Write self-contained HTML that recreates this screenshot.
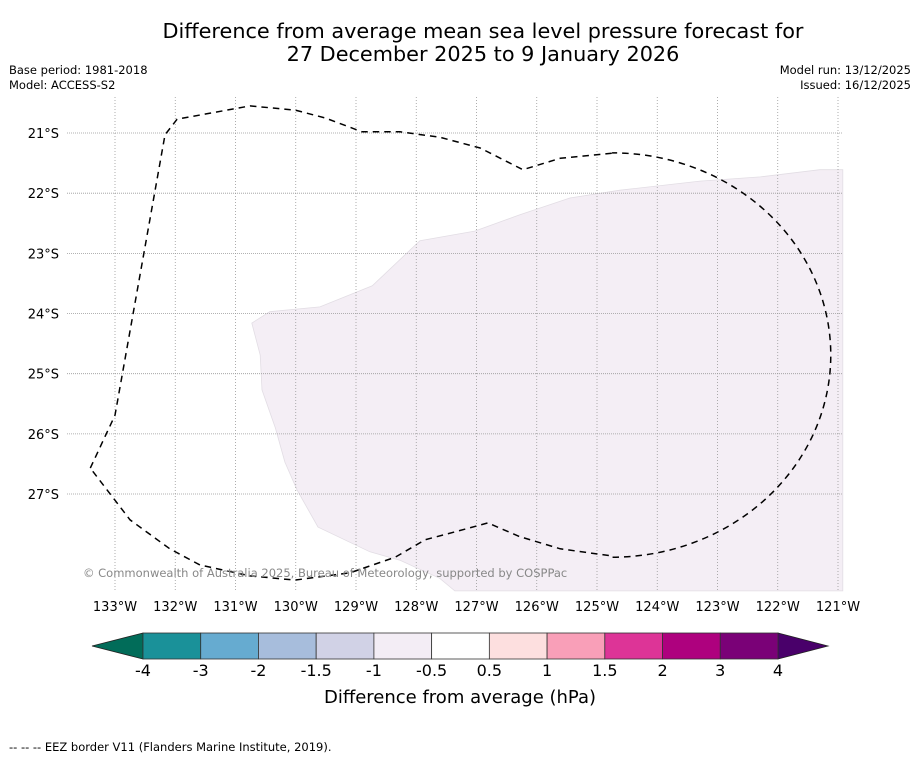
<!DOCTYPE html>
<html><head><meta charset="utf-8">
<style>
body{margin:0;background:#fff;font-family:"DejaVu Sans","Liberation Sans",sans-serif;}
svg{display:block}
</style></head>
<body>
<svg id="chart" width="919" height="758" xmlns="http://www.w3.org/2000/svg">
<text x="483" y="38" text-anchor="middle" font-size="20.8">Difference from average mean sea level pressure forecast for</text>
<text x="483" y="61" text-anchor="middle" font-size="20.8">27 December 2025 to 9 January 2026</text>
<text x="9" y="74" font-size="11.5">Base period: 1981-2018</text>
<text x="9" y="89" font-size="11.5">Model: ACCESS-S2</text>
<text x="911" y="74" font-size="11.5" text-anchor="end">Model run: 13/12/2025</text>
<text x="911" y="89" font-size="11.5" text-anchor="end">Issued: 16/12/2025</text>
<g id="map"></g>
<g id="cbar"></g>
<text x="460" y="703" text-anchor="middle" font-size="18">Difference from average (hPa)</text>
<text x="9" y="751" font-size="11.5">--  --  -- EEZ border V11 (Flanders Marine Institute, 2019).</text>
</svg>
<script>
const lonTicks=[133,132,131,130,129,128,127,126,125,124,123,122,121];
const latTicks=[21,22,23,24,25,26,27];
const shadeLon=[130.73,130.43,129.60,128.73,127.94,127.03,126.28,125.45,124.62,123.29,122.29,121.30,120.92,120.92,127.36,127.61,128.27,128.77,129.63,129.98,130.18,130.34,130.56,130.59];
const shadeLat=[24.16,23.97,23.89,23.54,22.79,22.63,22.36,22.08,21.95,21.80,21.73,21.61,21.61,28.61,28.61,28.40,28.10,27.96,27.55,26.93,26.47,25.90,25.27,24.69];
const eezTopLon=[133.41,133.0,132.17,131.97,130.76,130.01,129.51,128.90,128.27,127.61,126.94,126.23,125.61,124.70];
const eezTopLat=[26.57,25.69,21.03,20.77,20.55,20.62,20.75,20.98,20.98,21.07,21.25,21.61,21.42,21.33];
const eezBotLon=[124.75,125.61,126.28,126.81,127.36,127.85,128.35,129.10,130.01,130.76,131.59,132.09,132.75,133.41];
const eezBotLat=[28.03,27.91,27.71,27.48,27.63,27.76,28.05,28.31,28.43,28.36,28.18,27.91,27.43,26.57];
const ellipseCenter=[124.75,24.69];
const ellipseRadii=[3.63,3.36];
const cbarLevels=["-4","-3","-2","-1.5","-1","-0.5","0.5","1","1.5","2","3","4"];
const cbarColors=["#1a9199","#66abd0","#a7bddc","#d1d2e6","#f3edf5","#ffffff","#fddfdf","#f99fb8","#dd3497","#ae017e","#7a0177"];
const NS="http://www.w3.org/2000/svg";
const X0=67,X1=843,Y0=97,Y1=591;
const xs=lon=>115+(133-lon)*60.25;
const ys=lat=>133+(lat-21)*60.17;
function mk(tag,attrs,parent){const e=document.createElementNS(NS,tag);for(const k in attrs)e.setAttribute(k,attrs[k]);parent.appendChild(e);return e;}
const map=document.getElementById('map');
let d=shadeLon.map((l,i)=>(i?'L':'M')+xs(l).toFixed(1)+','+ys(shadeLat[i]).toFixed(1)).join('')+'Z';
let p=mk('path',{d:d,fill:'#f4eef5',stroke:'#e2dde4','stroke-width':0.8},map);


lonTicks.forEach(l=>{const x=xs(l);
 let g=mk('line',{x1:x,y1:Y0,x2:x,y2:Y1,stroke:'#999','stroke-width':0.8,'stroke-dasharray':'1,2'},map);
 
 
 let t=mk('text',{x:x,y:611,'text-anchor':'middle','font-size':13},map);t.textContent=l+'°W';
 
 
});
latTicks.forEach(l=>{const y=ys(l);
 let g=mk('line',{x1:X0,y1:y,x2:X1,y2:y,stroke:'#999','stroke-width':0.8,'stroke-dasharray':'1,1'},map);
 
 
 let t=mk('text',{x:59,y:y+5,'text-anchor':'end','font-size':13},map);t.textContent=l+'°S';
 
 
});
const cx=xs(ellipseCenter[0]),cy=ys(ellipseCenter[1]),rx=ellipseRadii[0]*60.25,ry=ellipseRadii[1]*60.17;
let e=eezTopLon.map((l,i)=>(i?'L':'M')+xs(l).toFixed(1)+','+ys(eezTopLat[i]).toFixed(1)).join('');
e+=`L${cx},${cy-ry}A${rx},${ry} 0 0 1 ${cx+rx},${cy}A${rx},${ry} 0 0 1 ${cx},${cy+ry}`;
e+=eezBotLon.map((l,i)=>'L'+xs(l).toFixed(1)+','+ys(eezBotLat[i]).toFixed(1)).join('');
let ez=mk('path',{d:e,fill:'none',stroke:'#000','stroke-width':1.5,'stroke-dasharray':'6.5,5'},map);


let c=mk('text',{x:83,y:577,'font-size':11.5,fill:'#888'},map);
c.textContent='© Commonwealth of Australia 2025, Bureau of Meteorology, supported by COSPPac';


const cb=document.getElementById('cbar');
const bx0=143,bx1=778,by=633,bh=26,n=cbarColors.length,bw=(bx1-bx0)/n;
let lt=mk('polygon',{points:`92,${by+bh/2} ${bx0},${by} ${bx0},${by+bh}`,fill:'#016c59',stroke:'#222','stroke-width':0.8},cb);


let rt=mk('polygon',{points:`828,${by+bh/2} ${bx1},${by} ${bx1},${by+bh}`,fill:'#49006a',stroke:'#222','stroke-width':0.8},cb);


cbarColors.forEach((col,i)=>{
 let r=mk('rect',{x:bx0+i*bw,y:by,width:bw,height:bh,fill:col,stroke:'#333','stroke-width':0.8},cb);
 
 
});
cbarLevels.forEach((lv,i)=>{
 let t=mk('text',{x:bx0+i*bw,y:676,'text-anchor':'middle','font-size':16},cb);t.textContent=lv;
 
 
});
</script>
</body></html>
